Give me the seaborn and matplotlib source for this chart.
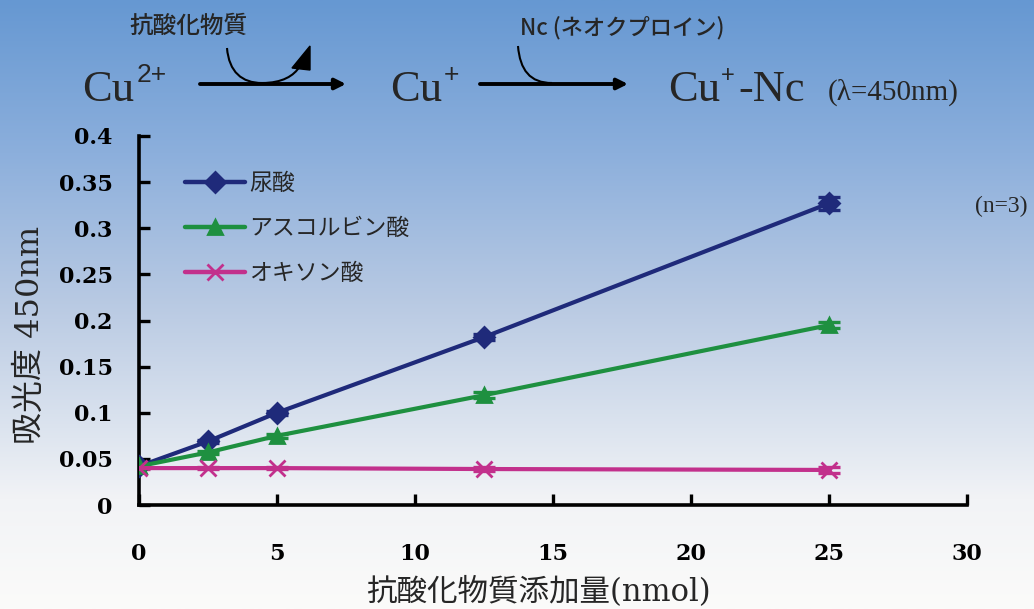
import numpy as np
import pandas as pd
import matplotlib
matplotlib.use("Agg")
import matplotlib.pyplot as plt
import seaborn as sns
from matplotlib.path import Path
from matplotlib.patches import PathPatch, Polygon
from matplotlib.colors import LinearSegmentedColormap

# ---------------- data ----------------
amount_nmol = [0, 2.5, 5, 12.5, 25]
series_names = ["尿酸", "アスコルビン酸", "オキソン酸"]
uric_acid = [0.042, 0.069, 0.100, 0.182, 0.327]
ascorbic_acid = [0.042, 0.057, 0.075, 0.119, 0.195]
oxonic_acid = [0.040, 0.040, 0.040, 0.039, 0.038]
uric_err = [0.001, 0.002, 0.002, 0.003, 0.007]
ascorbic_err = [0.001, 0.002, 0.002, 0.003, 0.003]
oxonic_err = [0.001, 0.001, 0.001, 0.002, 0.003]
x_ticks = [0, 5, 10, 15, 20, 25, 30]
y_ticks = [0, 0.05, 0.1, 0.15, 0.2, 0.25, 0.3, 0.35, 0.4]
y_tick_labels = ["0", "0.05", "0.1", "0.15", "0.2", "0.25", "0.3", "0.35", "0.4"]

colors = ["#1f2a7a", "#1e9040", "#c2308c"]
markers = ["D", "^", "X"]
final_markers = ["D", "^", "x"]

df = pd.DataFrame({
    "x": amount_nmol * 3,
    "y": uric_acid + ascorbic_acid + oxonic_acid,
    "err": uric_err + ascorbic_err + oxonic_err,
    "s": [n for n in series_names for _ in amount_nmol],
})

sns.set_style("ticks")
CJK = ["Noto Sans CJK JP", "DejaVu Sans"]
MIX = ["DejaVu Serif", "Noto Sans CJK JP"]
plt.rcParams["font.family"] = CJK

W, H = 1034, 609
fig = plt.figure(figsize=(W / 100, H / 100), dpi=100)

# background gradient
bg = fig.add_axes([0, 0, 1, 1], zorder=-10)
cmap = LinearSegmentedColormap.from_list("bg", [
    (0.0, "#6698d2"), (0.25, "#8cafdc"), (0.5, "#b9cae3"),
    (0.72, "#dfe6f0"), (0.82, "#f2f3f6"), (1.0, "#fbfbfa")])
grad = np.linspace(0, 1, 256).reshape(-1, 1)
bg.imshow(grad, aspect="auto", cmap=cmap, extent=[0, 1, 0, 1], origin="upper")
bg.set_axis_off()

# main axes
left, right = 139 / W, 967 / W
bottom, top = 1 - 505 / H, 1 - 136 / H
ax = fig.add_axes([left, bottom, right - left, top - bottom])
ax.patch.set_alpha(0)

sns.lineplot(data=df, x="x", y="y", hue="s", style="s", markers=markers,
             dashes=False, palette=colors, hue_order=series_names,
             style_order=series_names, ax=ax, linewidth=3.0,
             markersize=10, legend=True, zorder=3)


def style_marker(line, c, m):
    line.set_marker(m)
    line.set_markeredgecolor(c)
    line.set_markerfacecolor(c)
    line.set_markeredgewidth(2.0)
    if m == "x":
        line.set_markersize(11)


for line, c, m in zip(ax.lines, colors, final_markers):
    style_marker(line, c, m)
for name, c in zip(series_names, colors):
    sub = df[df["s"] == name]
    ax.errorbar(sub["x"], sub["y"], yerr=sub["err"], fmt="none", ecolor=c,
                elinewidth=2.0, capsize=8, capthick=2.4, zorder=2)

ax.set_xlim(0, 30)
ax.set_ylim(0, 0.4)
ax.set_xticks(x_ticks)
ax.set_yticks(y_ticks)
ax.set_yticklabels(y_tick_labels)
sns.despine(ax=ax)
for sp in ["left", "bottom"]:
    ax.spines[sp].set_linewidth(2.6)
    ax.spines[sp].set_color("black")
ax.tick_params(axis="both", direction="in", length=8, width=2.4, colors="black")
ax.tick_params(axis="y", pad=19)
ax.tick_params(axis="x", pad=27)
for lab in ax.get_xticklabels() + ax.get_yticklabels():
    lab.set_fontfamily("DejaVu Serif")
    lab.set_fontweight("bold")
    lab.set_fontsize(16)

ax.set_xlabel("抗酸化物質添加量(nmol)", fontsize=22, family=MIX)
ax.set_ylabel("吸光度 450nm", fontsize=23, family=MIX)
# label positions measured in figure pixels
ax.xaxis.set_label_coords(538 / W, 1 - 593 / H, transform=fig.transFigure)
ax.xaxis.label.set_va("center")
ax.yaxis.set_label_coords(30 / W, 1 - 335 / H, transform=fig.transFigure)
ax.yaxis.label.set_va("center")

leg = ax.legend(loc="upper left", bbox_to_anchor=(185 / W, 1 - 172 / H),
                bbox_transform=fig.transFigure, frameon=False,
                fontsize=16.5, handlelength=2.6, handletextpad=0.2,
                labelspacing=0.95, borderpad=0, borderaxespad=0)
for h, c, m in zip(leg.legend_handles, colors, final_markers):
    h.set_linewidth(3.2)
    style_marker(h, c, m)

fig.text(975 / W, 1 - 206 / H, "(n=3)", fontsize=17, family="Liberation Serif",
         ha="left", va="center")

# reaction scheme (overlay in pixel coords)
ov = fig.add_axes([0, 0, 1, 1], zorder=5)
ov.set_xlim(0, W)
ov.set_ylim(H, 0)
ov.set_axis_off()
ov.patch.set_alpha(0)

serif = "Liberation Serif"
sup = "Liberation Sans"
ov.text(82, 101, "Cu", fontsize=32, family=serif, ha="left", va="baseline")
ov.text(137, 82, "2+", fontsize=19, family=sup, ha="left", va="baseline")
ov.text(390, 101, "Cu", fontsize=32, family=serif, ha="left", va="baseline")
ov.text(444, 82, "+", fontsize=19, family=sup, ha="left", va="baseline")
ov.text(668, 101, "Cu", fontsize=32, family=serif, ha="left", va="baseline")
ov.text(721, 82, "+", fontsize=17, family=sup, ha="left", va="baseline")
ov.text(738, 101, "-Nc", fontsize=32, family=serif, ha="left", va="baseline")
ov.text(828, 100, "(λ=450nm)", fontsize=21, family=serif, ha="left", va="baseline")
ov.text(188, 26, "抗酸化物質", fontsize=17, ha="center", va="center", family=CJK,
        weight="medium")
ov.text(622, 28, "Nc (ネオクプロイン)", fontsize=16, ha="center", va="center",
        family=CJK, weight="medium")

for x0, x1 in [(200, 346), (480, 628)]:
    ov.annotate("", xy=(x1, 84), xytext=(x0, 84),
                arrowprops=dict(arrowstyle="-|>", lw=2.8, color="black",
                                mutation_scale=16, shrinkA=0, shrinkB=0))

p1 = Path([(227, 48), (229, 72), (242, 83), (262, 83),
           (282, 83), (294, 76), (300, 66)],
          [Path.MOVETO, Path.CURVE4, Path.CURVE4, Path.CURVE4,
           Path.CURVE4, Path.CURVE4, Path.CURVE4])
ov.add_patch(PathPatch(p1, fill=False, lw=1.5, color="black"))
ov.add_patch(Polygon([(292, 68), (310, 46), (310, 70)], closed=True,
                     color="black"))
p2 = Path([(518, 46), (520, 70), (530, 83), (552, 83)],
          [Path.MOVETO, Path.CURVE4, Path.CURVE4, Path.CURVE4])
ov.add_patch(PathPatch(p2, fill=False, lw=1.5, color="black"))

fig.savefig("out.png", dpi=100)
